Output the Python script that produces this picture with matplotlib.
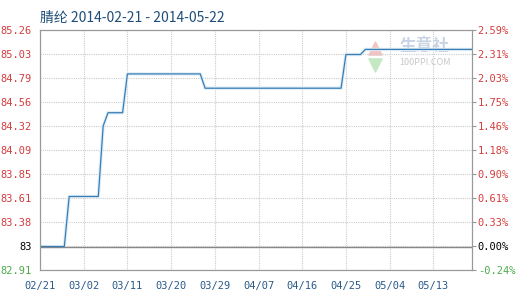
import pandas as pd
import matplotlib.pyplot as plt
import numpy as np

plt.rcParams['font.family'] = ['Noto Sans CJK SC', 'DejaVu Sans']

title = '腈纶 2014-02-21 - 2014-05-22'

dates = ['2014-02-21', '2014-02-26', '2014-02-27', '2014-03-05', '2014-03-06',
         '2014-03-07', '2014-03-10', '2014-03-11', '2014-03-26', '2014-03-27',
         '2014-04-24', '2014-04-25', '2014-04-28', '2014-04-29', '2014-05-21']
prices = [83.14, 83.14, 83.63, 83.63, 84.32,
          84.45, 84.45, 84.83, 84.83, 84.69,
          84.69, 85.02, 85.02, 85.07, 85.07]

left_labels = ['82.91', '83', '83.38', '83.61', '83.85', '84.09',
               '84.32', '84.56', '84.79', '85.03', '85.26']
right_labels = ['-0.24%', '0.00%', '0.33%', '0.61%', '0.90%', '1.18%',
                '1.46%', '1.75%', '2.03%', '2.31%', '2.59%']
x_labels = ['02/21', '03/02', '03/11', '03/20', '03/29',
            '04/07', '04/16', '04/25', '05/04', '05/13']

y_min, y_max = 82.91, 85.26
base = 83.14

x = pd.to_datetime(dates)
x_ticks = pd.date_range('2014-02-21', periods=len(x_labels), freq='9D')
y_ticks = np.linspace(y_min, y_max, len(left_labels))

fig = plt.figure(figsize=(5.2, 3.0), dpi=100)
ax = fig.add_axes([0.077, 0.1, 0.831, 0.8])

ax.plot(x, prices, color='#dcedf8', linewidth=2.4, zorder=2)
ax.plot(x, prices, color='#3b7db3', linewidth=0.9, zorder=3)

ax.set_xlim(pd.Timestamp('2014-02-21'), pd.Timestamp('2014-05-21'))
ax.set_ylim(y_min, y_max)

ax.set_xticks(x_ticks)
ax.set_xticklabels(x_labels, fontsize=7.5, color='#2a5a8a', family='DejaVu Sans Mono')
ax.set_yticks(y_ticks)
ax.set_yticklabels(left_labels, fontsize=7.5, family='DejaVu Sans Mono')
ax.tick_params(axis='y', length=0, pad=6)
ax.tick_params(axis='x', length=0, pad=8)

for lbl in ax.get_yticklabels():
    t = lbl.get_text()
    if t == '83':
        lbl.set_color('black')
    elif t == '82.91':
        lbl.set_color('#4caa4c')
    else:
        lbl.set_color('#d43c3c')

ax2 = ax.twinx()
ax2.set_ylim(y_min, y_max)
ax2.set_yticks(y_ticks)
ax2.set_yticklabels(right_labels, fontsize=7.5, family='DejaVu Sans Mono')
ax2.tick_params(axis='y', length=3, pad=1, color='#999999')
for lbl in ax2.get_yticklabels():
    t = lbl.get_text()
    if t == '0.00%':
        lbl.set_color('black')
    elif t.startswith('-'):
        lbl.set_color('#4caa4c')
    else:
        lbl.set_color('#d43c3c')

ax.grid(True, color='#cccccc', linestyle=(0, (1, 1)), linewidth=0.8)
ax.axhline(base, color='#888888', linewidth=1.0, zorder=2)

for a in (ax, ax2):
    for s in a.spines.values():
        s.set_color('#999999')
        s.set_linewidth(0.8)

ax.set_title(title, fontsize=10, color='#1f4e79', loc='left', x=0.0, pad=6)

# watermark
ax.scatter([0.775], [0.925], marker='^', s=90, color='#f4c4c4', transform=ax.transAxes,
           zorder=1, clip_on=False)
ax.scatter([0.775], [0.855], marker='v', s=90, color='#c4e8c4', transform=ax.transAxes,
           zorder=1, clip_on=False)
ax.text(0.89, 0.935, '生意社', transform=ax.transAxes, fontsize=12, color='#c8d4e4',
        ha='center', va='center', fontweight='bold', zorder=1)
ax.text(0.89, 0.865, '100PPI.COM', transform=ax.transAxes, fontsize=6.5, color='#c8c8c8',
        ha='center', va='center', zorder=1)

fig.savefig('out.png', dpi=100)
